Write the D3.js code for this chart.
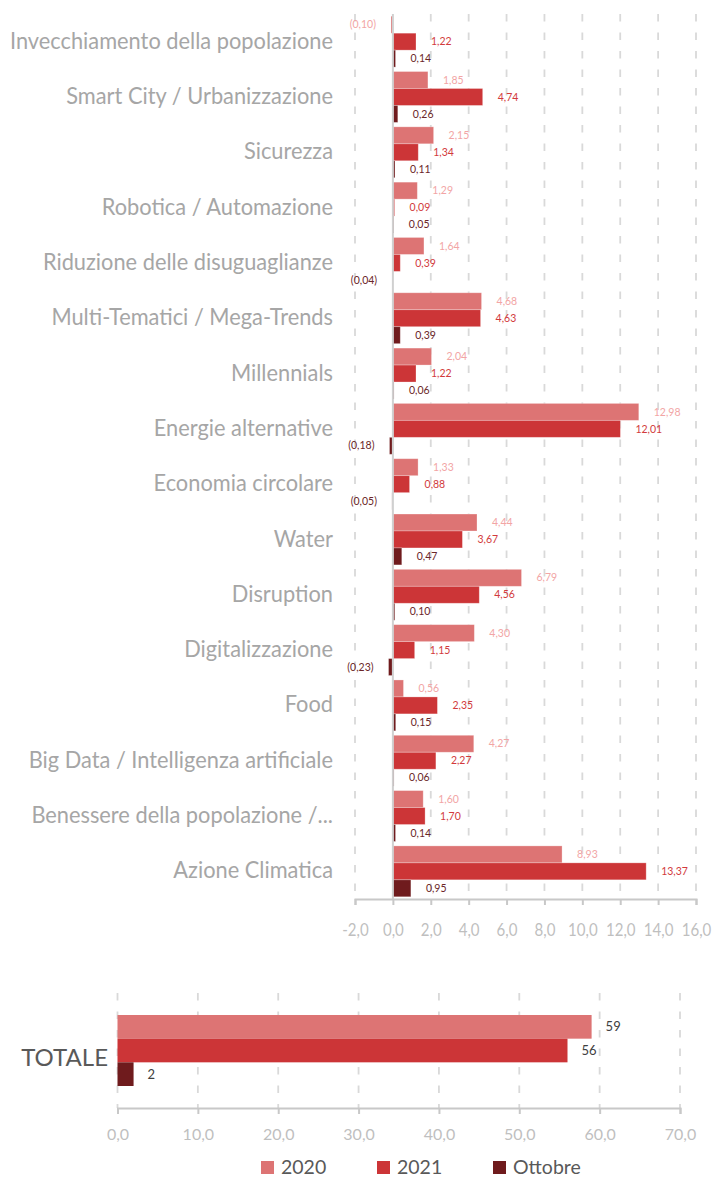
<!DOCTYPE html>
<html><head><meta charset="utf-8">
<script src="https://cdn.jsdelivr.net/npm/d3@7"></script>
<style>
html,body{margin:0;padding:0;background:#fff;}
svg{display:block;font-family:Lato,"Open Sans",sans-serif;}
</style></head>
<body>
<svg id="chart" width="715" height="1178"></svg>
<script>
const categories = [
  "Invecchiamento della popolazione",
  "Smart City / Urbanizzazione",
  "Sicurezza",
  "Robotica / Automazione",
  "Riduzione delle disuguaglianze",
  "Multi-Tematici / Mega-Trends",
  "Millennials",
  "Energie alternative",
  "Economia circolare",
  "Water",
  "Disruption",
  "Digitalizzazione",
  "Food",
  "Big Data / Intelligenza artificiale",
  "Benessere della popolazione /...",
  "Azione Climatica"
];
const seriesNames = ["2020", "2021", "Ottobre"];
const values2020 = [-0.10, 1.85, 2.15, 1.29, 1.64, 4.68, 2.04, 12.98, 1.33, 4.44, 6.79, 4.30, 0.56, 4.27, 1.60, 8.93];
const values2021 = [1.22, 4.74, 1.34, 0.09, 0.39, 4.63, 1.22, 12.01, 0.88, 3.67, 4.56, 1.15, 2.35, 2.27, 1.70, 13.37];
const valuesOttobre = [0.14, 0.26, 0.11, 0.05, -0.04, 0.39, 0.06, -0.18, -0.05, 0.47, 0.10, -0.23, 0.15, 0.06, 0.14, 0.95];
const topTicks = [-2, 0, 2, 4, 6, 8, 10, 12, 14, 16];
const totalCategory = ["TOTALE"];
const totals = [59, 56, 2];
const bottomTicks = [0, 10, 20, 30, 40, 50, 60, 70];

const barColors = ["#dd7474", "#cc3537", "#6f1b1d"];
const labelColors = ["#f2a5a5", "#d23a3c", "#6b2628"];

const svg = d3.select("#chart");
const fmt2 = v => { const s = Math.abs(v).toFixed(2).replace(".", ","); return v < 0 ? "(" + s + ")" : s; };
const fmt1 = v => v.toFixed(1).replace(".", ",");
function squeezeText(sel, factor) {
  sel.each(function() {
    const w = this.getComputedTextLength();
    d3.select(this).attr("textLength", w * factor).attr("lengthAdjust", "spacingAndGlyphs");
  });
}

// ---------- TOP CHART ----------
const topArea = {y0: 14, y1: 899};
const x = d3.scaleLinear().domain([-2, 16]).range([355, 696]);
const y = d3.scaleBand().domain(categories).range([topArea.y0, topArea.y1]).paddingInner(0.08).paddingOuter(0.04);
const ySub = d3.scaleBand().domain(seriesNames).range([0, y.bandwidth()]);
const topSeries = [values2020, values2021, valuesOttobre];

// gridlines
svg.append("g").selectAll("line").data(topTicks.filter(t => t !== 0)).join("line")
  .attr("x1", d => x(d)).attr("x2", d => x(d))
  .attr("y1", topArea.y0).attr("y2", topArea.y1)
  .attr("stroke", "#d9d9d9").attr("stroke-width", 1.8).attr("stroke-dasharray", "7.5,11");

// bars
const groups = svg.append("g").selectAll("g").data(categories).join("g")
  .attr("transform", d => `translate(0,${y(d)})`);
groups.each(function(cat, i) {
  const g = d3.select(this);
  seriesNames.forEach((s, k) => {
    const v = topSeries[k][i];
    g.append("rect")
      .attr("x", Math.min(x(0), x(v)))
      .attr("width", Math.abs(x(v) - x(0)))
      .attr("y", ySub(s)).attr("height", ySub.bandwidth())
      .attr("fill", barColors[k]).attr("stroke", "#fff").attr("stroke-opacity", 0.35).attr("stroke-width", 0.8);
    g.append("text")
      .attr("x", v >= 0 ? x(v) + 15 : x(v) - 15)
      .attr("y", ySub(s) + ySub.bandwidth() / 2)
      .attr("dy", "0.35em")
      .attr("text-anchor", v >= 0 ? "start" : "end")
      .attr("font-size", 10.5)
      .attr("fill", labelColors[k])
      .text(fmt2(v));
  });
});

// zero line
svg.append("line").attr("x1", x(0)).attr("x2", x(0)).attr("y1", topArea.y0).attr("y2", topArea.y1)
  .attr("stroke", "#d0d0d0").attr("stroke-width", 2);

// category labels
const catLabels = svg.append("g").selectAll("text").data(categories).join("text")
  .attr("x", 333).attr("y", d => y(d) + y.bandwidth() / 2 - 1)
  .attr("dy", "0.35em").attr("text-anchor", "end")
  .attr("font-size", 23).attr("fill", "#a6a6a6")
  .text(d => d);
squeezeText(catLabels, 323 / catLabels.nodes()[0].getComputedTextLength());

// top axis
const axTop = svg.append("g").attr("transform", `translate(0,${topArea.y1})`)
  .call(d3.axisBottom(x).tickValues(topTicks).tickFormat(fmt1).tickSize(6).tickSizeOuter(6));
axTop.select(".domain").attr("stroke", "#c8c8c8").attr("stroke-width", 2);
axTop.selectAll(".tick line").attr("stroke", "#c8c8c8").attr("stroke-width", 2);
const topTickText = axTop.selectAll(".tick text").attr("y", 37).attr("dy", 0).attr("font-size", 17.5)
  .attr("fill", "#bfbfbf").attr("font-family", "Lato");
squeezeText(topTickText, 0.86);

// ---------- BOTTOM CHART ----------
const botArea = {y0: 993, y1: 1108};
const x2 = d3.scaleLinear().domain([0, 70]).range([117.5, 680]);
const yb = d3.scaleBand().domain(totalCategory).range([botArea.y0, botArea.y1]).paddingInner(0).paddingOuter(0.31);
const ybSub = d3.scaleBand().domain(seriesNames).range([0, yb.bandwidth()]);

svg.append("g").selectAll("line").data(bottomTicks).join("line")
  .attr("x1", d => x2(d)).attr("x2", d => x2(d))
  .attr("y1", botArea.y0).attr("y2", botArea.y1)
  .attr("stroke", "#d9d9d9").attr("stroke-width", 1.8).attr("stroke-dasharray", "7.5,11");

const bg = svg.append("g").attr("transform", `translate(0,${yb("TOTALE")})`);
seriesNames.forEach((s, k) => {
  const v = totals[k];
  bg.append("rect").attr("x", x2(0)).attr("width", x2(v) - x2(0))
    .attr("y", ybSub(s)).attr("height", ybSub.bandwidth()).attr("fill", barColors[k]);
  bg.append("text").attr("x", x2(v) + 14).attr("y", ybSub(s) + ybSub.bandwidth() / 2)
    .attr("dy", "0.35em").attr("font-size", 13).attr("fill", "#404040").text(String(v));
});

svg.append("text").attr("x", 108).attr("y", yb("TOTALE") + yb.bandwidth() / 2 + 7)
  .attr("dy", "0.35em").attr("text-anchor", "end").attr("font-size", 24).attr("fill", "#595959")
  .text(totalCategory[0]);

const axBot = svg.append("g").attr("transform", `translate(0,${botArea.y1})`)
  .call(d3.axisBottom(x2).tickValues(bottomTicks).tickFormat(fmt1).tickSize(6).tickSizeOuter(6));
axBot.select(".domain").attr("stroke", "#c8c8c8").attr("stroke-width", 2);
axBot.selectAll(".tick line").attr("stroke", "#c8c8c8").attr("stroke-width", 2);
axBot.selectAll(".tick text").attr("y", 32).attr("dy", 0).attr("font-size", 16)
  .attr("fill", "#bfbfbf").attr("font-family", "Lato");

// ---------- LEGEND ----------
const legend = svg.append("g").attr("transform", "translate(261,1161)");
const li = legend.selectAll("g").data(seriesNames).join("g")
  .attr("transform", (d, i) => `translate(${i * 116},0)`);
li.append("rect").attr("width", 13).attr("height", 13).attr("fill", (d, i) => barColors[i]);
li.append("text").attr("x", 20).attr("y", 13).attr("font-size", 19.5).attr("fill", "#595959").text(d => d);
</script>
</body></html>
